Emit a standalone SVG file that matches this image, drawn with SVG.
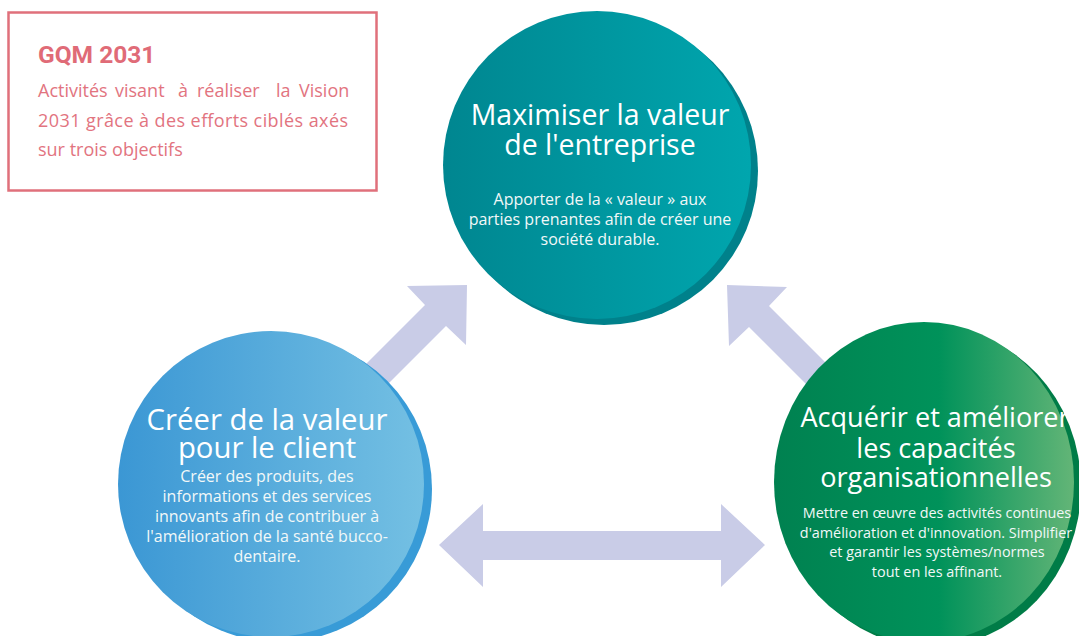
<svg xmlns="http://www.w3.org/2000/svg" width="1079" height="636" viewBox="0 0 1079 636">
<defs>
<linearGradient id="gTeal" x1="0" y1="0" x2="1" y2="0">
<stop offset="0" stop-color="#008690"/>
<stop offset="1" stop-color="#00a6ae"/>
</linearGradient>
<linearGradient id="gBlue" x1="0" y1="0" x2="1" y2="0">
<stop offset="0" stop-color="#3b97d4"/>
<stop offset="1" stop-color="#74c0e3"/>
</linearGradient>
<linearGradient id="gGreen" x1="0" y1="0" x2="1" y2="0">
<stop offset="0" stop-color="#008150"/>
<stop offset="0.55" stop-color="#00925a"/>
<stop offset="1" stop-color="#63b577"/>
</linearGradient>
<style>
.arrow{fill:#c9cce7;}
.title{font-family:"Open Sans","Liberation Sans",sans-serif;fill:#ffffff;text-anchor:middle;}
.sub{font-family:"Open Sans","Liberation Sans",sans-serif;fill:#f2f8f8;text-anchor:middle;}
.box{fill:#ffffff;stroke:#e0707b;stroke-width:2.5;}
.boxtitle{font-family:Roboto,"Liberation Sans",sans-serif;font-weight:700;font-size:24.5px;fill:#e06b77;}
.boxtext{font-family:"Open Sans","Liberation Sans",sans-serif;font-size:18px;fill:#e2747f;}
</style>
</defs>
<rect width="1079" height="636" fill="#ffffff"/>

<g id="legend">
<rect class="box" x="8.5" y="12.5" width="368" height="178"/>
<text class="boxtitle" x="38" y="63">GQM 2031</text>
<text class="boxtext" y="97"><tspan x="38">Activités</tspan><tspan x="115">visant</tspan><tspan x="178">à</tspan><tspan x="197">réaliser</tspan><tspan x="276">la</tspan><tspan x="299">Vision</tspan></text>
<text class="boxtext" x="38" y="127" textLength="310" lengthAdjust="spacing">2031 grâce à des efforts ciblés axés</text>
<text class="boxtext" x="38" y="156">sur trois objectifs</text>
</g>

<g id="connectors">
<polygon class="arrow" points="467,285 407,286 425,305 325,405 346,426 446,326 466,345"/>
<polygon class="arrow" points="727,285 787,287 769,306 869,406 849,427 749,327 729,346"/>
<polygon class="arrow" points="439,545 483,504 483,531 721,531 721,504 765,545 721,587 721,560 483,560 483,587"/>
</g>

<g id="node-entreprise">
<circle cx="604" cy="171" r="154" fill="#00818b"/>
<circle cx="597" cy="165" r="154" fill="url(#gTeal)"/>
<text class="title" font-size="28.5"><tspan x="600" y="125">Maximiser la valeur</tspan><tspan x="600" y="155">de l'entreprise</tspan></text>
<text class="sub" font-size="16"><tspan x="600" y="205">Apporter de la « valeur » aux</tspan><tspan x="600" y="225">parties prenantes afin de créer une</tspan><tspan x="600" y="245">société durable.</tspan></text>
</g>

<g id="node-client">
<circle cx="279" cy="489" r="153" fill="#389bd7"/>
<circle cx="271" cy="484" r="153" fill="url(#gBlue)"/>
<text class="title" font-size="29.3"><tspan x="267" y="430">Créer de la valeur</tspan><tspan x="267" y="458">pour le client</tspan></text>
<text class="sub" font-size="16"><tspan x="267" y="482">Créer des produits, des</tspan><tspan x="267" y="502">informations et des services</tspan><tspan x="267" y="522">innovants afin de contribuer à</tspan><tspan x="267" y="542">l'amélioration de la santé bucco-</tspan><tspan x="267" y="562">dentaire.</tspan></text>
</g>

<g id="node-capacites">
<ellipse cx="931" cy="487" rx="150" ry="160" fill="#007c47"/>
<ellipse cx="924" cy="482" rx="150" ry="160" fill="url(#gGreen)"/>
<text class="title" font-size="27.1"><tspan x="935" y="427">Acquérir et améliorer</tspan><tspan x="936" y="458">les capacités</tspan><tspan x="936" y="487">organisationnelles</tspan></text>
<text class="sub" font-size="14.4"><tspan x="937" y="518">Mettre en œuvre des activités continues</tspan><tspan x="936" y="538">d'amélioration et d'innovation. Simplifier</tspan><tspan x="937" y="557">et garantir les systèmes/normes</tspan><tspan x="937" y="577">tout en les affinant.</tspan></text>
</g>
</svg>
